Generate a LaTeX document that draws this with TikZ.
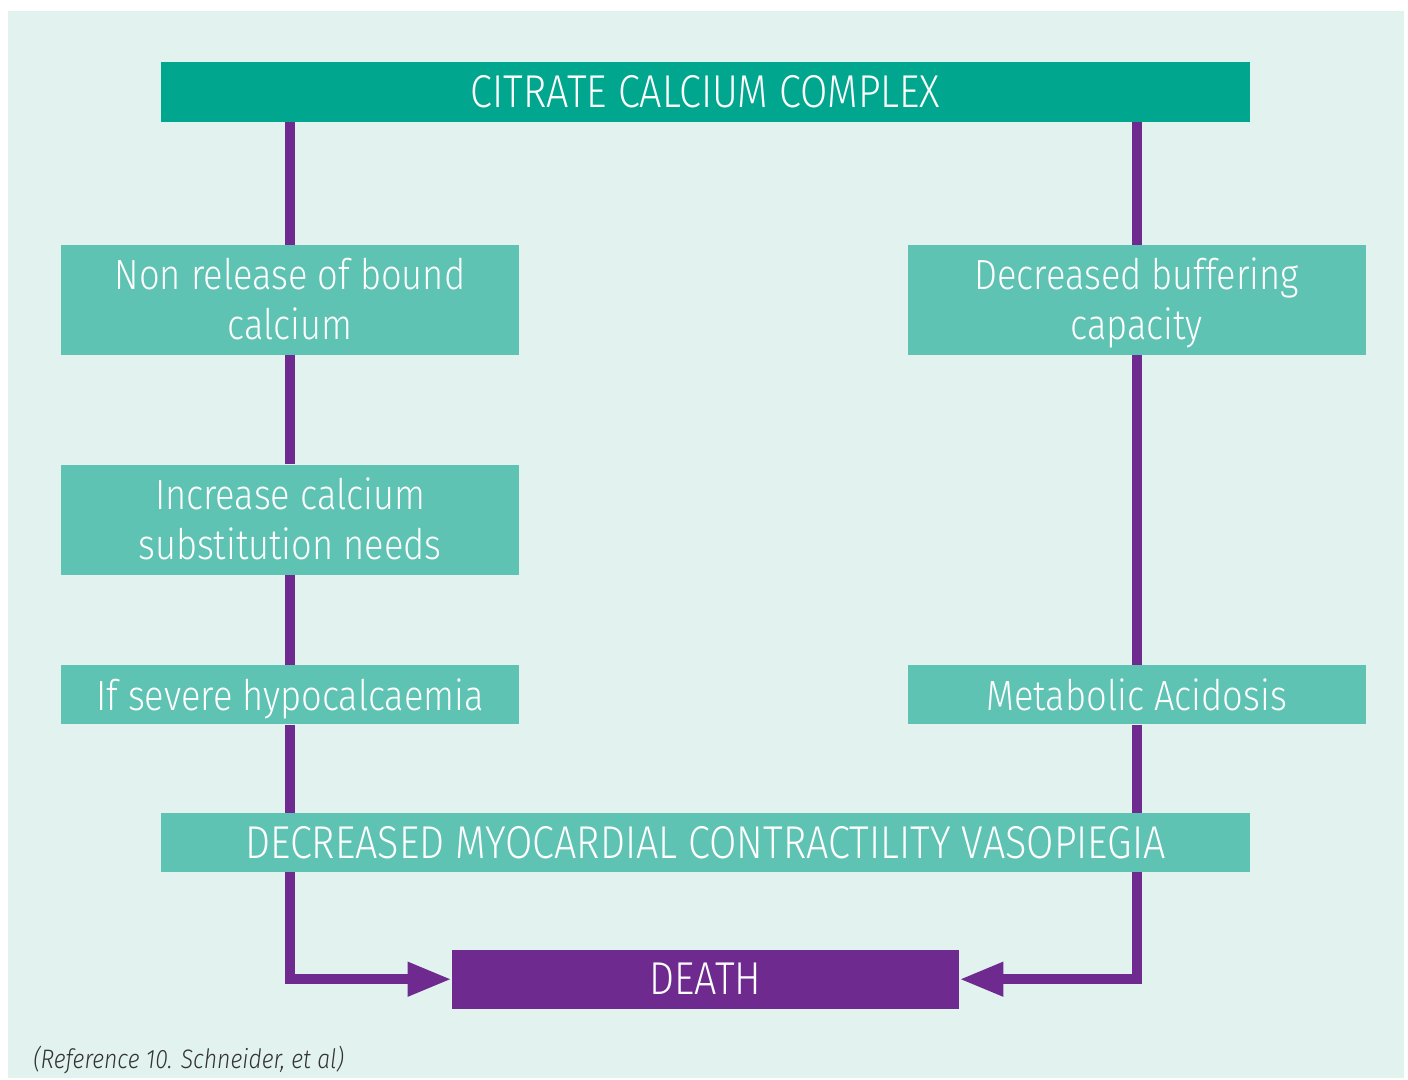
\documentclass[tikz,border=0pt]{standalone}
\usepackage{fontspec}
\setmainfont{Fira Sans Light}[FakeStretch=0.86]
\usepackage{tikz}
\usetikzlibrary{arrows.meta,positioning,backgrounds}
\definecolor{citbg}{HTML}{E2F2EE}
\definecolor{citdark}{HTML}{00A78E}
\definecolor{citbox}{HTML}{5EC3B3}
\definecolor{citpurple}{HTML}{6E2A8E}
\definecolor{citnote}{HTML}{333333}
\newcommand{\citstrut}{\rule[-5pt]{0pt}{27.8pt}}
\newcommand{\citpair}[2]{\parbox[c][2.2cm][t]{9.16cm}{\centering
  \vspace*{5.6pt}\strut #1\\#2}}

\begin{document}
\begin{tikzpicture}[
  box/.style={fill=citbox, text=white, inner sep=0pt, minimum width=9.16cm,
              align=center, font=\fontsize{24}{28.5}\selectfont,
              execute at begin node=\citstrut, execute at end node=\citstrut},
  tall/.style={box, minimum height=2.2cm,
               execute at begin node={}, execute at end node={}},
  wide/.style={box, minimum width=21.78cm, minimum height=1.2cm,
               font=\fontsize{26.2}{30}\selectfont},
  flow/.style={draw=citpurple, line width=0.2cm, line join=miter},
  tip/.style={-{Triangle[length=0.88cm, width=0.64cm]}},
  node distance=2.18cm and 7.76cm
]
\useasboundingbox (0,0) rectangle (28.16,-21.58);

\node[wide, fill=citdark] (top) at (14.11,-1.84) {CITRATE CALCIUM COMPLEX};
\node[tall] (nrb) at (5.8,-6.0) {\citpair{Non release of bound}{calcium}};
\node[tall, below=of nrb] (ics) {\citpair{Increase calcium}{substitution needs}};
\node[box, minimum height=1.18cm, below=1.8cm of ics] (ish) {If severe hypocalcaemia};
\node[tall, right=of nrb] (dbc) {\citpair{Decreased buffering}{capacity}};
\node[box, minimum height=1.18cm, right=of ish] (mac) {Metabolic Acidosis};
\node[wide, minimum height=1.18cm] (dmc) at (14.11,-16.85) {DECREASED MYOCARDIAL CONTRACTILITY VASOPIEGIA};
\node[wide, fill=citpurple, minimum width=10.14cm, minimum height=1.18cm,
      below=1.54cm of dmc] (death) {DEATH};

\node[anchor=base west, text=citnote, inner sep=0pt,
      font=\fontsize{15.2}{17}\selectfont\itshape] (ref) at (0.66,-21.36)
  {(Reference 10. Schneider, et al)};

\begin{scope}[on background layer]
\fill[citbg] (0.16,-0.22) rectangle (28.08,-21.56);
% left branch
\draw[flow] (top.south -| nrb) -- (nrb);
\draw[flow] (nrb) -- (ics);
\draw[flow] (ics) -- (ish);
\draw[flow] (ish) -- (ish |- dmc);
\draw[flow, tip] (dmc.south -| nrb) |- (death.west);
% right branch
\draw[flow] (top.south -| dbc) -- (dbc);
\draw[flow] (dbc) -- (mac);
\draw[flow] (mac) -- (mac |- dmc);
\draw[flow, tip] (dmc.south -| dbc) |- (death.east);
\end{scope}
\end{tikzpicture}
\end{document}
